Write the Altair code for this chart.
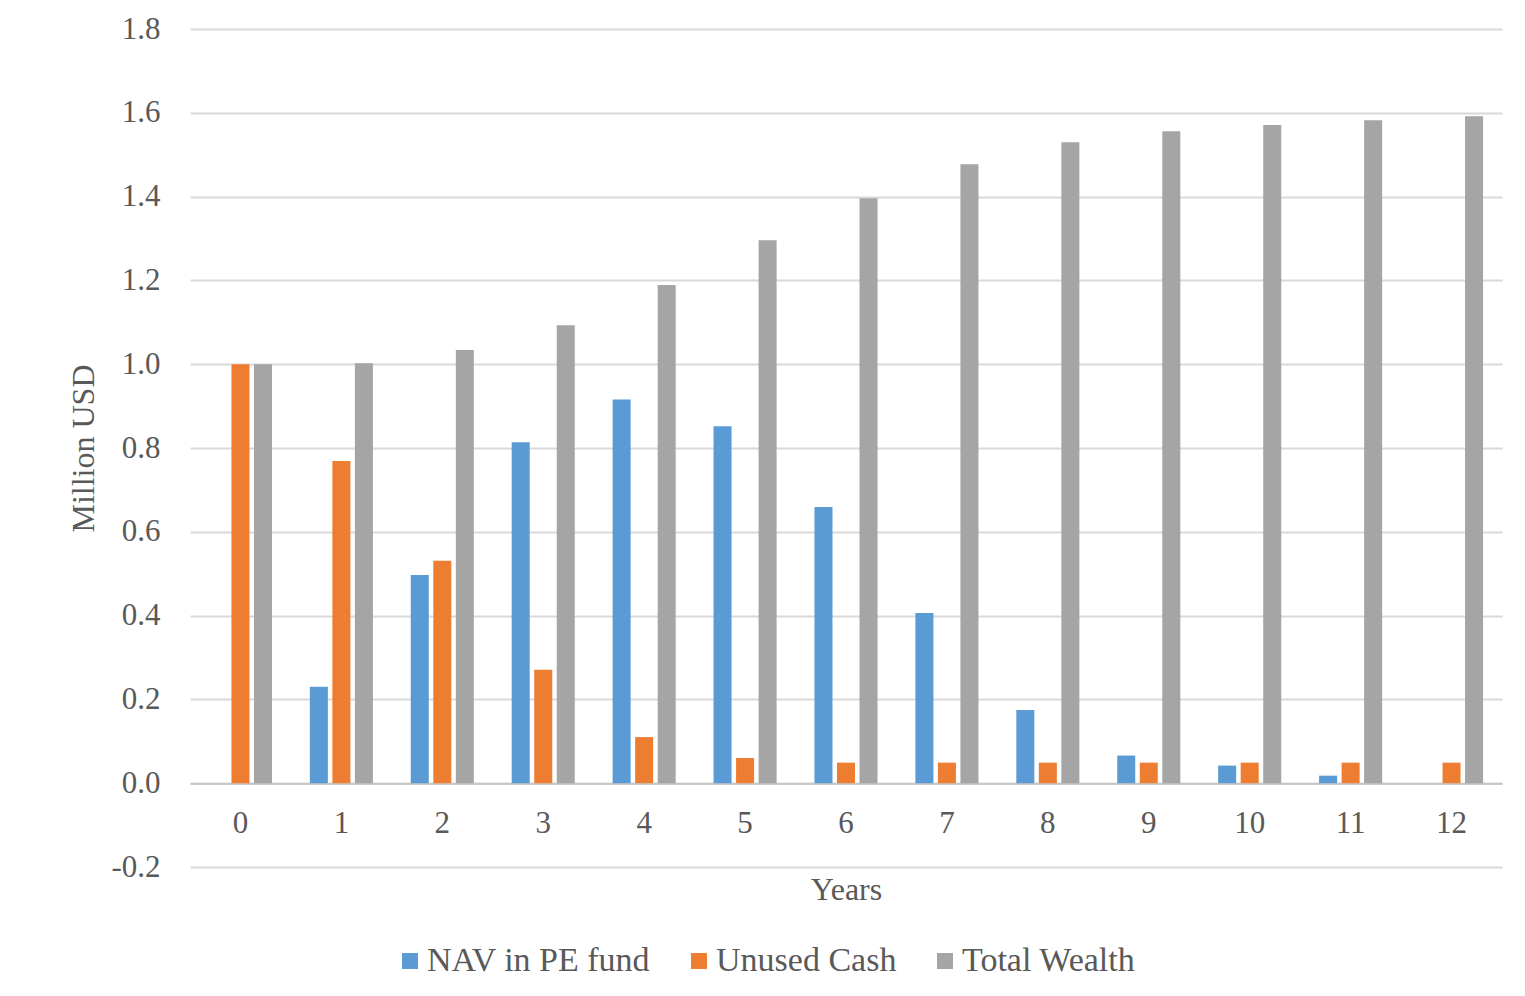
import altair as alt
import pandas as pd

years = [str(i) for i in range(13)]
series_names = ["NAV in PE fund", "Unused Cash", "Total Wealth"]
nav = [0.0, 0.230, 0.497, 0.814, 0.916, 0.852, 0.659, 0.406, 0.175, 0.066, 0.042, 0.018, 0.0]
cash = [1.0, 0.769, 0.531, 0.271, 0.110, 0.060, 0.049, 0.049, 0.049, 0.049, 0.049, 0.049, 0.049]
total = [1.0, 1.002, 1.034, 1.093, 1.189, 1.296, 1.396, 1.477, 1.530, 1.556, 1.571, 1.582, 1.592]
colors = ["#5B9BD5", "#ED7D31", "#A5A5A5"]
y_ticks = [-0.2, 0.0, 0.2, 0.4, 0.6, 0.8, 1.0, 1.2, 1.4, 1.6, 1.8]

rows = []
for name, vals in zip(series_names, [nav, cash, total]):
    for yr, v in zip(years, vals):
        rows.append({"Year": yr, "Series": name, "Value": v})
df = pd.DataFrame(rows)

FONT = "Liberation Serif"
TXT = "#595959"

chart = alt.Chart(df).mark_bar().encode(
    x=alt.X(
        "Year:N",
        sort=years,
        title="Years",
        scale=alt.Scale(paddingInner=0.375, paddingOuter=0.1875),
        axis=alt.Axis(
            offset=-83.4,
            ticks=False,
            labelAngle=0,
            labelPadding=25,
            labelFontSize=31,
            labelColor=TXT,
            labelFont=FONT,
            titleFont=FONT,
            titleFontSize=32,
            titleFontWeight="normal",
            titleColor=TXT,
            titlePadding=36,
            domainColor="#BFBFBF",
            domainWidth=1.5,
            grid=False,
        ),
    ),
    xOffset=alt.XOffset(
        "Series:N",
        sort=series_names,
        scale=alt.Scale(paddingInner=0.2, paddingOuter=0),
    ),
    y=alt.Y(
        "Value:Q",
        title="Million USD",
        scale=alt.Scale(domain=[-0.2, 1.8], nice=False, zero=False),
        axis=alt.Axis(
            values=y_ticks,
            labelExpr="datum.value < -0.001 ? '-' + format(-datum.value, '.1f') : format(abs(datum.value), '.1f')",
            ticks=False,
            domain=False,
            labelPadding=30,
            labelFontSize=31,
            labelColor=TXT,
            labelFont=FONT,
            titleFont=FONT,
            titleFontSize=32,
            titleFontWeight="normal",
            titleColor=TXT,
            titlePadding=10,
            gridColor="#D9D9D9",
            gridWidth=1.8,
        ),
    ),
    color=alt.Color(
        "Series:N",
        sort=series_names,
        scale=alt.Scale(domain=series_names, range=colors),
        legend=alt.Legend(
            title=None,
            orient="none",
            direction="horizontal",
            legendX=203,
            legendY=915,
            symbolType="square",
            symbolSize=256,
            symbolStrokeWidth=0,
            labelFont=FONT,
            labelFontSize=34,
            labelColor=TXT,
            labelLimit=500,
            labelOffset=0,
            columnPadding=31,
            padding=0,
        ),
    ),
).properties(
    width=1312,
    height=838,
    autosize=alt.AutoSizeParams(type="none"),
    padding={"left": 182, "top": 21, "right": 15, "bottom": 121},
).configure_view(stroke=None)

chart.save("out.html", embed_options={"renderer": "svg", "actions": False})
